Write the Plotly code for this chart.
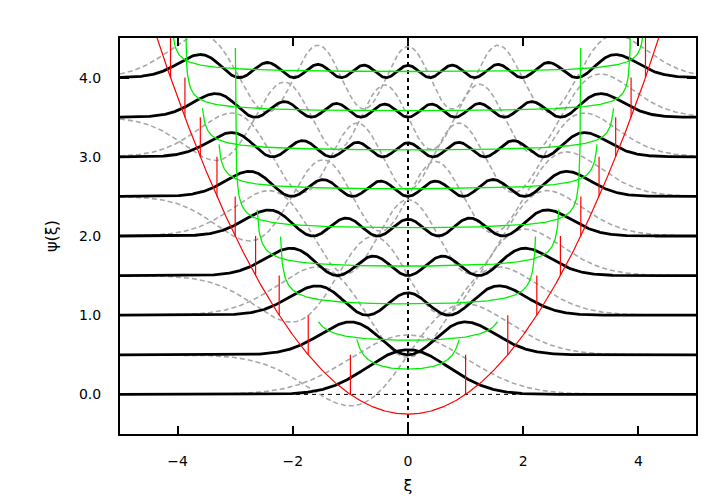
import numpy as np
import plotly.graph_objects as go

# quantum numbers of the oscillator states and their vertical offsets
levels = [0, 1, 2, 3, 4, 5, 6, 7, 8]
offsets = [0.0, 0.5, 1.0, 1.5, 2.0, 2.5, 3.0, 3.5, 4.0]
# outermost sample of each classical density curve (|xi|)
green_edge = [0.889, 1.555, 2.213, 2.618, 2.997, 3.281, 3.568, 3.866, 4.09]

x_range = [-5, 5]
y_ticks = [0.0, 0.5, 1.0, 1.5, 2.0, 2.5, 3.0, 3.5, 4.0]
y_ticktext = ['0.0', '', '1.0', '', '2.0', '', '3.0', '', '4.0']
x_ticks = [-4, -2, 0, 2, 4]


def hermite_functions(xi, nmax):
    """ Normalised harmonic oscillator eigenfunctions psi_0..psi_nmax """
    psi = [np.pi ** -0.25 * np.exp(-xi ** 2 / 2)]
    psi.append(np.sqrt(2) * xi * psi[0])
    for n in range(1, nmax):
        psi.append(np.sqrt(2 / (n + 1)) * xi * psi[n] - np.sqrt(n / (n + 1)) * psi[n - 1])
    return psi


xi = np.linspace(x_range[0], x_range[1], 1201)
psi = hermite_functions(xi, max(levels))

# the page body adds an 8px margin, so the figure is 8px smaller
fig = go.Figure(
  layout=dict(
    template='plotly_white',
    width=712,
    height=496,
    margin=dict(l=112, r=24, t=30, b=70),
    showlegend=False,
    font=dict(family='DejaVu Sans, Liberation Sans, sans-serif', size=14, color='black'),
    plot_bgcolor='white',
    paper_bgcolor='white',
  )
).update_xaxes(
  range=x_range, showline=True, linecolor='black', linewidth=2, mirror='ticks',
  showgrid=False, zeroline=False, ticks='inside', ticklen=8, tickwidth=1.5,
  tickcolor='black', tickvals=x_ticks, ticklabelstandoff=13,
  title=dict(text='ξ', font=dict(size=16), standoff=12),
).update_yaxes(
  range=[-0.5, 4.5], showline=True, linecolor='black', linewidth=2, mirror='ticks',
  showgrid=False, zeroline=False, ticks='inside', ticklen=9, tickwidth=1.5,
  tickcolor='black', tickvals=y_ticks, ticktext=y_ticktext, ticklabelstandoff=14,
  title=dict(text='ψ(ξ)', font=dict(size=16), standoff=17),
)

# zero axes
fig.add_trace(go.Scatter(x=[0, 0], y=[-0.5, 4.5], mode='lines',
  line=dict(color='black', width=2, dash='4px,4px'), hoverinfo='skip'))
fig.add_trace(go.Scatter(x=x_range, y=[0, 0], mode='lines',
  line=dict(color='black', width=1, dash='4px,4px'), hoverinfo='skip'))

# wavefunctions (gray dashed)
for n, off in zip(levels, offsets):
    fig.add_trace(go.Scatter(x=xi, y=psi[n] + off, mode='lines',
      line=dict(color='#a8a8a8', width=1.6, dash='5px,3px')))

# probability densities (black)
for n, off in zip(levels, offsets):
    fig.add_trace(go.Scatter(x=xi, y=psi[n] ** 2 + off, mode='lines',
      line=dict(color='black', width=2.8)))

# classical probability densities (green)
for n, off, edge in zip(levels, offsets, green_edge):
    xs = np.linspace(-edge, edge, 601)
    fig.add_trace(go.Scatter(x=xs, y=off + 1 / (np.pi * np.sqrt(2 * n + 1 - xs ** 2)),
      mode='lines', line=dict(color='#00ee00', width=1.3)))

# potential
fig.add_trace(go.Scatter(x=xi, y=xi ** 2 / 4 - 0.25, mode='lines',
  line=dict(color='red', width=1.2)))

# classical turning points
tx, ty = [], []
for n, off in zip(levels, offsets):
    a = np.sqrt(2 * n + 1)
    tx += [-a, -a, None, a, a, None]
    ty += [off, off + 0.5, None, off, off + 0.5, None]
fig.add_trace(go.Scatter(x=tx, y=ty, mode='lines', line=dict(color='red', width=1.2)))

fig.write_html('out.html')
